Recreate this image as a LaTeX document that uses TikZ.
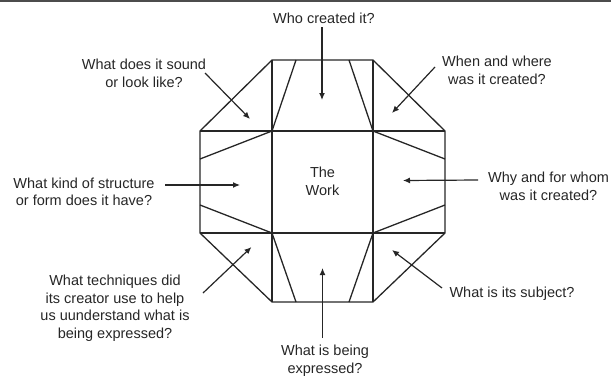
\documentclass[tikz,border=0pt]{standalone}
\usepackage{fontspec}
\setmainfont{Liberation Sans}
\usetikzlibrary{arrows.meta}
\begin{document}
\begin{tikzpicture}[x=1bp,y=-1bp,
  lbl/.style={align=center, inner sep=0pt, text=black!85, font=\fontsize{14.5bp}{17.5bp}\selectfont},
  edge/.style={draw=black!85, line width=1.3bp, line join=miter},
  arr/.style={draw=black!85, line width=1.2bp, -{Latex[length=7bp,width=6bp]}}]
\useasboundingbox (0,0) rectangle (611,378);
\draw[black!70, line width=2bp] (0,1) -- (611,1);
% octagon
\draw[edge] (272,60) -- (373,60) -- (445,131) -- (445,233) -- (373,302) -- (272,302) -- (200,233) -- (200,131) -- cycle;
\draw[edge] (272,60) -- (272,302);
\draw[edge] (373,60) -- (373,302);
\draw[edge] (200,131) -- (445,131);
\draw[edge] (200,233) -- (445,233);
\draw[edge] (296,60) -- (272,131) (349,60) -- (373,131);
\draw[edge] (296,302) -- (272,233) (349,302) -- (373,233);
\draw[edge] (200,159) -- (272,131) (200,205) -- (272,233);
\draw[edge] (445,159) -- (373,131) (445,205) -- (373,233);
% labels
\node[lbl] (work) at (322.5,181.5) {The\\Work};
\node[lbl] (who) at (324,18) {Who created it?};
\node[lbl] (sound) at (144,73.5) {What does it sound\\or look like?};
\node[lbl] (when) at (497,70.5) {When and where\\was it created?};
\node[lbl] (form) at (84,192) {What kind of structure\\or form does it have?};
\node[lbl] (why) at (548.5,186.5) {Why and for whom\\was it created?};
\node[lbl] (subj) at (512,294) {What is its subject?};
\node[lbl] (tech) at (115,308) {What techniques did\\its creator use to help\\us uunderstand what is\\being expressed?};
\node[lbl] (expr) at (325,360.5) {What is being\\expressed?};
% arrow ends
\coordinate (who0) at (322,27);   \coordinate (who1) at (322,100);
\coordinate (sound0) at (205,73); \coordinate (sound1) at (250,119);
\coordinate (when0) at (435,67);  \coordinate (when1) at (392,113);
\coordinate (form0) at (165,185); \coordinate (form1) at (240,185);
\coordinate (why0) at (478,180);  \coordinate (why1) at (403,180.5);
\coordinate (subj0) at (442,288); \coordinate (subj1) at (392,250);
\coordinate (tech0) at (203,293); \coordinate (tech1) at (251.5,247);
\coordinate (expr0) at (322.5,338); \coordinate (expr1) at (322.5,268);
\draw[arr] (who0) -- (who1);
\draw[arr] (sound0) -- (sound1);
\draw[arr] (when0) -- (when1);
\draw[arr] (form0) -- (form1);
\draw[arr] (why0) -- (why1);
\draw[arr] (subj0) -- (subj1);
\draw[arr] (tech0) -- (tech1);
\draw[arr] (expr0) -- (expr1);
\end{tikzpicture}
\end{document}
